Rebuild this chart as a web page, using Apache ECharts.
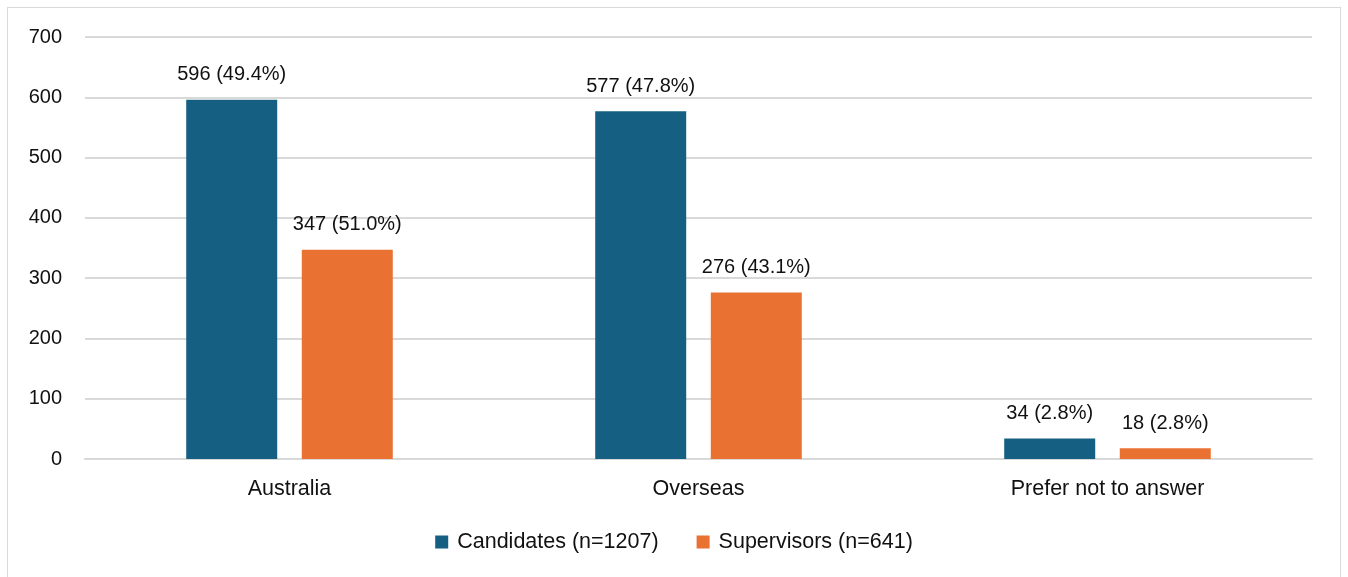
<!DOCTYPE html>
<html>
<head>
<meta charset="utf-8">
<script src="https://cdn.jsdelivr.net/npm/echarts@6/dist/echarts.min.js"></script>
<style>
html,body{margin:0;padding:0;background:#fff;}
#wrap{position:relative;width:1348px;height:577px;overflow:hidden;}
#chart{position:absolute;left:0;top:0;width:1348px;height:577px;}
#frame{position:absolute;left:7px;top:7px;width:1332px;height:600px;border:1.5px solid #d9d9d9;pointer-events:none;}
</style>
</head>
<body>
<div id="wrap"><div id="chart"></div><div id="frame"></div></div>
<script>
const categories = ['Australia', 'Overseas', 'Prefer not to answer'];
const candidates = [596, 577, 34];
const candidatesPct = ['49.4%', '47.8%', '2.8%'];
const supervisors = [347, 276, 18];
const supervisorsPct = ['51.0%', '43.1%', '2.8%'];
const seriesNames = ['Candidates (n=1207)', 'Supervisors (n=641)'];

const font = '"Liberation Sans", Arial, sans-serif';
const chart = echarts.init(document.getElementById('chart'), null, {renderer: 'canvas'});
function lbl(pcts) {
  return {
    show: true, position: 'top', distance: 15,
    color: '#111', fontSize: 20, fontFamily: font,
    formatter: p => p.value + ' (' + pcts[p.dataIndex] + ')'
  };
}
chart.setOption({
  animation: false,
  textStyle: {fontFamily: font},
  grid: {left: 85, right: 36, top: 37, bottom: 118},
  legend: {
    bottom: 19, left: 'center',
    itemWidth: 13, itemHeight: 13, itemGap: 38,
    icon: 'rect',
    textStyle: {fontSize: 21.5, color: '#111', fontFamily: font, padding: [0,0,0,4]},
    data: seriesNames
  },
  xAxis: {
    type: 'category', data: categories,
    axisLine: {show: true, lineStyle: {color: '#d9d9d9', width: 2}},
    axisTick: {show: false},
    axisLabel: {fontSize: 21.5, color: '#111', margin: 19, fontFamily: font}
  },
  yAxis: {
    type: 'value', min: 0, max: 700, interval: 100,
    axisLine: {show: false}, axisTick: {show: false},
    splitLine: {lineStyle: {color: '#d9d9d9', width: 2}},
    axisLabel: {fontSize: 20, color: '#111', margin: 23, fontFamily: font}
  },
  series: [
    {name: seriesNames[0], type: 'bar', data: candidates, barWidth: 91, barGap: '27%',
     itemStyle: {color: '#156082'}, label: lbl(candidatesPct)},
    {name: seriesNames[1], type: 'bar', data: supervisors, barWidth: 91,
     itemStyle: {color: '#E97132'}, label: lbl(supervisorsPct)}
  ]
});
</script>
</body>
</html>
